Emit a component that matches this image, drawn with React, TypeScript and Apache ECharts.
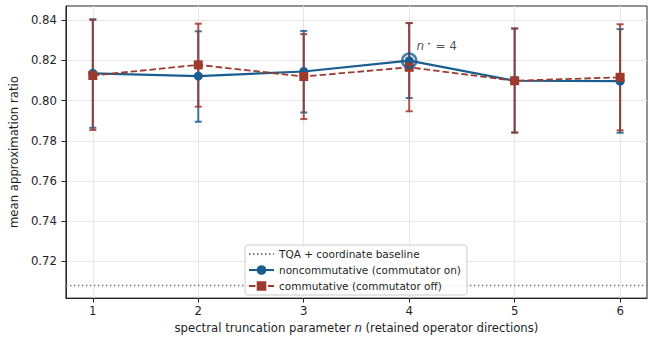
import React, { useEffect, useRef } from "react";
import * as echarts from "echarts";

const nValues = [1, 2, 3, 4, 5, 6];
const nonMean = [0.8136, 0.8122, 0.8145, 0.8199, 0.8099, 0.8097];
const nonLow = [0.7865, 0.7895, 0.7941, 0.8013, 0.7841, 0.784];
const nonHigh = [0.8405, 0.8345, 0.8347, 0.8386, 0.8359, 0.8356];
const comMean = [0.8125, 0.8178, 0.812, 0.8166, 0.8099, 0.8116];
const comLow = [0.7854, 0.797, 0.7908, 0.7947, 0.7841, 0.7852];
const comHigh = [0.8402, 0.8383, 0.8331, 0.8386, 0.8359, 0.838];
const baselineValue = 0.708;
const bestN = 4;
const yTicks = [0.72, 0.74, 0.76, 0.78, 0.8, 0.82, 0.84];
const xTicks = [1, 2, 3, 4, 5, 6];

const BLUE = "#1a5d8f";
const RED = "#9d3a2e";
const FONT = "DejaVu Sans";
const TXT = "#1f1f1f";

function errorBarSeries(name: string, color: string, low: number[], high: number[]) {
  return {
    type: "custom",
    name,
    data: nValues.map((x, i) => [x, low[i], high[i]]),
    encode: { x: 0, y: [1, 2] },
    renderItem: (params: any, api: any) => {
      const x = api.value(0);
      const lo = api.coord([x, api.value(1)]);
      const hi = api.coord([x, api.value(2)]);
      const cw = 3.5;
      const style = { stroke: color, lineWidth: 2, opacity: 0.85 };
      return {
        type: "group",
        children: [
          { type: "line", shape: { x1: lo[0], y1: lo[1], x2: hi[0], y2: hi[1] }, style },
          { type: "line", shape: { x1: lo[0] - cw, y1: lo[1], x2: lo[0] + cw, y2: lo[1] }, style },
          { type: "line", shape: { x1: hi[0] - cw, y1: hi[1], x2: hi[0] + cw, y2: hi[1] }, style },
        ],
      };
    },
    silent: true,
  };
}

export default function App() {
  const ref = useRef<HTMLDivElement>(null);
  useEffect(() => {
    if (!ref.current) return;
    const chart = echarts.init(ref.current, null, { renderer: "svg" });
    const bestIdx = nValues.indexOf(bestN);
    chart.setOption({
      animation: false,
      textStyle: { fontFamily: FONT },
      grid: {
        left: 64,
        right: 5,
        top: 6,
        bottom: 39,
        show: true,
        borderColor: "#262626",
        borderWidth: 1,
        backgroundColor: "transparent",
      },
      xAxis: {
        type: "value",
        min: 0.745,
        max: 6.255,
        name: "spectral truncation parameter {i|n} (retained operator directions)",
        nameLocation: "middle",
        nameGap: 23,
        nameTextStyle: {
          fontFamily: FONT,
          fontSize: 11.7,
          color: TXT,
          rich: { i: { fontStyle: "italic", fontFamily: FONT, fontSize: 11.7, color: TXT } },
        },
        axisLine: { show: true, onZero: false, lineStyle: { color: "#262626", width: 1 } },
        axisTick: { show: true, length: 4.5, customValues: xTicks, lineStyle: { color: "#262626" } },
        axisLabel: { customValues: xTicks, fontFamily: FONT, fontSize: 11.7, color: TXT, margin: 7 },
        splitLine: { show: true, lineStyle: { color: "#e6e6e6", width: 1 } },
      },
      yAxis: {
        type: "value",
        min: 0.7017,
        max: 0.8471,
        name: "mean approximation ratio",
        nameLocation: "middle",
        nameGap: 41,
        nameTextStyle: { fontFamily: FONT, fontSize: 11.7, color: TXT },
        axisLine: { show: true, onZero: false, lineStyle: { color: "#262626", width: 1 } },
        axisTick: { show: true, length: 4.5, customValues: yTicks, lineStyle: { color: "#262626" } },
        axisLabel: {
          customValues: yTicks,
          fontFamily: FONT,
          fontSize: 11.7,
          color: TXT,
          margin: 9,
          formatter: (v: number) => v.toFixed(2),
        },
        splitLine: { show: true, lineStyle: { color: "#e6e6e6", width: 1 } },
      },
      legend: {
        orient: "vertical",
        left: 245,
        top: 245,
        padding: [3, 6, 3, 3],
        itemGap: 4,
        itemWidth: 25,
        itemHeight: 12,
        backgroundColor: "rgba(255,255,255,0.85)",
        borderColor: "#cccccc",
        borderWidth: 1,
        borderRadius: 3,
        textStyle: { fontFamily: FONT, fontSize: 10.5, color: TXT, lineHeight: 12 },
        data: [
          { name: "TQA + coordinate baseline", itemStyle: { opacity: 0 } },
          { name: "noncommutative (commutator on)" },
          { name: "commutative (commutator off)" },
        ],
      },
      series: [
        {
          type: "line",
          name: "TQA + coordinate baseline",
          data: [
            [0.745, baselineValue],
            [6.255, baselineValue],
          ],
          symbol: "none",
          lineStyle: { color: "#777777", width: 1.5, type: [1.5, 2.5] },
          itemStyle: { color: "#777777" },
          silent: true,
        },
        errorBarSeries("nc-err", BLUE, nonLow, nonHigh),
        {
          type: "line",
          name: "noncommutative (commutator on)",
          data: nValues.map((x, i) => [x, nonMean[i]]),
          symbol: "circle",
          symbolSize: 9,
          lineStyle: { color: BLUE, width: 2.2 },
          itemStyle: { color: BLUE },
          silent: true,
        },
        errorBarSeries("c-err", RED, comLow, comHigh),
        {
          type: "line",
          name: "commutative (commutator off)",
          data: nValues.map((x, i) => [x, comMean[i]]),
          symbol: "rect",
          symbolSize: 9,
          lineStyle: { color: RED, width: 1.8, type: [6.5, 3] },
          itemStyle: { color: RED },
          silent: true,
        },
        {
          type: "scatter",
          name: "best",
          data: [[bestN, nonMean[bestIdx]]],
          symbol: "circle",
          symbolSize: 14,
          itemStyle: { color: "transparent", borderColor: BLUE, borderWidth: 2.5 },
          label: {
            show: true,
            position: "right",
            offset: [-6, -15],
            formatter: "{i|n}{s| ⋆} {t|= 4}",
            rich: {
              i: { fontStyle: "italic", fontFamily: FONT, fontSize: 12, color: TXT },
              s: { fontFamily: FONT, fontSize: 8, color: TXT, verticalAlign: "top" },
              t: { fontFamily: FONT, fontSize: 12, color: TXT },
            },
          },
          silent: true,
          z: 5,
        },
      ],
    });
    return () => chart.dispose();
  }, []);
  return <div ref={ref} style={{ width: 652, height: 339, position: "absolute", left: 0, top: 0, background: "#fff" }} />;
}
